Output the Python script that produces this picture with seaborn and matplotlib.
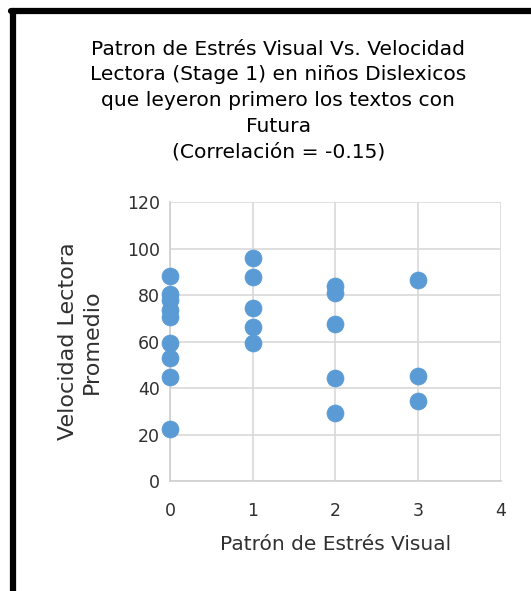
import numpy as np
import pandas as pd
import matplotlib
matplotlib.use("Agg")
import matplotlib.pyplot as plt
import seaborn as sns
from matplotlib.lines import Line2D

# ---------------- DATA ----------------
patron = [0, 0, 0, 0, 0, 0, 0, 0, 0,
          1, 1, 1, 1, 1,
          2, 2, 2, 2, 2,
          3, 3, 3]
velocidad = [88.3, 80.3, 77.8, 73.8, 70.4, 59.2, 53.0, 44.9, 22.4,
             96.0, 87.9, 74.4, 66.4, 59.4,
             83.9, 80.7, 67.7, 44.4, 29.4,
             86.5, 45.3, 34.4]
x_ticks = [0, 1, 2, 3, 4]
y_ticks = [0, 20, 40, 60, 80, 100, 120]

df = pd.DataFrame({"patron": patron, "velocidad": velocidad})

# ---------------- STYLE ----------------
sns.set_style("white")
plt.rcParams["font.family"] = ["DejaVu Sans"]

fig = plt.figure(figsize=(5.31, 5.91), dpi=100)
ax = fig.add_axes([0.320, 0.186, 0.6235, 0.472])

sns.scatterplot(data=df, x="patron", y="velocidad", ax=ax, s=150,
                color="#5B9BD5", edgecolor="#5B9BD5", linewidth=0.5,
                zorder=3, clip_on=False)

ax.set_xlim(0, 4)
ax.set_ylim(0, 120)
ax.set_xticks(x_ticks)
ax.set_yticks(y_ticks)
ax.grid(True, color="#D9D9D9", linewidth=1.2)
ax.set_axisbelow(True)
for side in ["top", "right"]:
    ax.spines[side].set_visible(False)
for side in ["left", "bottom"]:
    ax.spines[side].set_color("#D0D0D0")
    ax.spines[side].set_linewidth(1.2)
ax.tick_params(length=0, labelsize=12.5, colors="#303030", pad=7)
ax.tick_params(axis="x", pad=15)
ax.set_xlabel("Patrón de Estrés Visual", fontsize=14.5, color="#303030", labelpad=11)
ax.set_ylabel("Velocidad Lectora\nPromedio", fontsize=16, color="#303030",
              labelpad=18, linespacing=1.25)

fig.text(0.524, 0.933,
         "Patron de Estrés Visual Vs. Velocidad\n"
         "Lectora (Stage 1) en niños Dislexicos\n"
         "que leyeron primero los textos con\n"
         "Futura\n(Correlación = -0.15)",
         ha="center", va="top", fontsize=14.6, color="#000000", linespacing=1.45)

# black frame of the chart area
fig.add_artist(Line2D([0.0245, 0.0245], [0, 0.982], color="black", linewidth=4.5))
fig.add_artist(Line2D([0.0205, 1.0], [0.981, 0.981], color="black", linewidth=4.5))

fig.savefig("out.png", dpi=100)
